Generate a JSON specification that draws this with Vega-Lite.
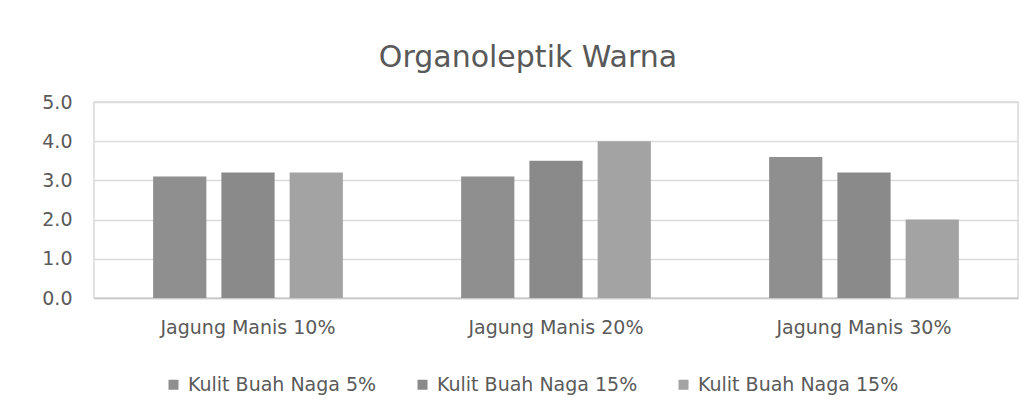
{
  "$schema": "https://vega.github.io/schema/vega-lite/v6.json",
  "width": 924,
  "height": 196,
  "autosize": {"type": "none"},
  "padding": {"left": 94, "top": 102, "right": 14, "bottom": 112},
  "background": "#ffffff",
  "title": {
    "text": "Organoleptik Warna",
    "font": "DejaVu Sans",
    "fontSize": 30,
    "fontWeight": "normal",
    "color": "#595959",
    "anchor": "middle",
    "frame": "group",
    "dx": -28,
    "offset": 20
  },
  "data": {
    "values": [
      {"kelompok": "Jagung Manis 10%", "seri": "Kulit Buah Naga 5%", "nilai": 3.1},
      {"kelompok": "Jagung Manis 10%", "seri": "Kulit Buah Naga 15%", "nilai": 3.2},
      {"kelompok": "Jagung Manis 10%", "seri": "Kulit Buah Naga 15% (b)", "nilai": 3.2},
      {"kelompok": "Jagung Manis 20%", "seri": "Kulit Buah Naga 5%", "nilai": 3.1},
      {"kelompok": "Jagung Manis 20%", "seri": "Kulit Buah Naga 15%", "nilai": 3.5},
      {"kelompok": "Jagung Manis 20%", "seri": "Kulit Buah Naga 15% (b)", "nilai": 4.0},
      {"kelompok": "Jagung Manis 30%", "seri": "Kulit Buah Naga 5%", "nilai": 3.6},
      {"kelompok": "Jagung Manis 30%", "seri": "Kulit Buah Naga 15%", "nilai": 3.2},
      {"kelompok": "Jagung Manis 30%", "seri": "Kulit Buah Naga 15% (b)", "nilai": 2.0}
    ]
  },
  "mark": {"type": "bar"},
  "encoding": {
    "x": {
      "field": "kelompok",
      "type": "nominal",
      "sort": null,
      "scale": {"paddingInner": 0.384, "paddingOuter": 0.192},
      "axis": {
        "title": null,
        "labelAngle": 0,
        "ticks": false,
        "labelPadding": 20,
        "labelFont": "DejaVu Sans",
        "labelFontSize": 19,
        "labelColor": "#5a5a5a",
        "domainColor": "#c8c8c8",
        "domainWidth": 1.5,
        "grid": false
      }
    },
    "xOffset": {
      "field": "seri",
      "type": "nominal",
      "sort": ["Kulit Buah Naga 5%", "Kulit Buah Naga 15%", "Kulit Buah Naga 15% (b)"],
      "scale": {"paddingInner": 0.22, "paddingOuter": 0}
    },
    "y": {
      "field": "nilai",
      "type": "quantitative",
      "scale": {"domain": [0, 5]},
      "axis": {
        "title": null,
        "values": [0, 1, 2, 3, 4, 5],
        "format": ".1f",
        "ticks": false,
        "labelPadding": 22,
        "labelFont": "DejaVu Sans",
        "labelFontSize": 19,
        "labelColor": "#5a5a5a",
        "domain": false,
        "gridColor": "#dcdcdc",
        "gridWidth": 1.5
      }
    },
    "color": {
      "field": "seri",
      "type": "nominal",
      "scale": {
        "domain": ["Kulit Buah Naga 5%", "Kulit Buah Naga 15%", "Kulit Buah Naga 15% (b)"],
        "range": ["#8f8f8f", "#8a8a8a", "#a3a3a3"]
      },
      "legend": {
        "title": null,
        "orient": "none",
        "direction": "horizontal",
        "legendX": 70,
        "legendY": 273,
        "symbolType": "square",
        "symbolSize": 100,
        "symbolStrokeWidth": 0,
        "labelOffset": 5,
        "columnPadding": 36,
        "labelFont": "DejaVu Sans",
        "labelFontSize": 19,
        "labelColor": "#5a5a5a",
        "labelLimit": 400,
        "labelExpr": "replace(datum.label, ' (b)', '')"
      }
    }
  },
  "config": {
    "view": {"stroke": "#d9d9d9", "strokeWidth": 1.5}
  }
}
